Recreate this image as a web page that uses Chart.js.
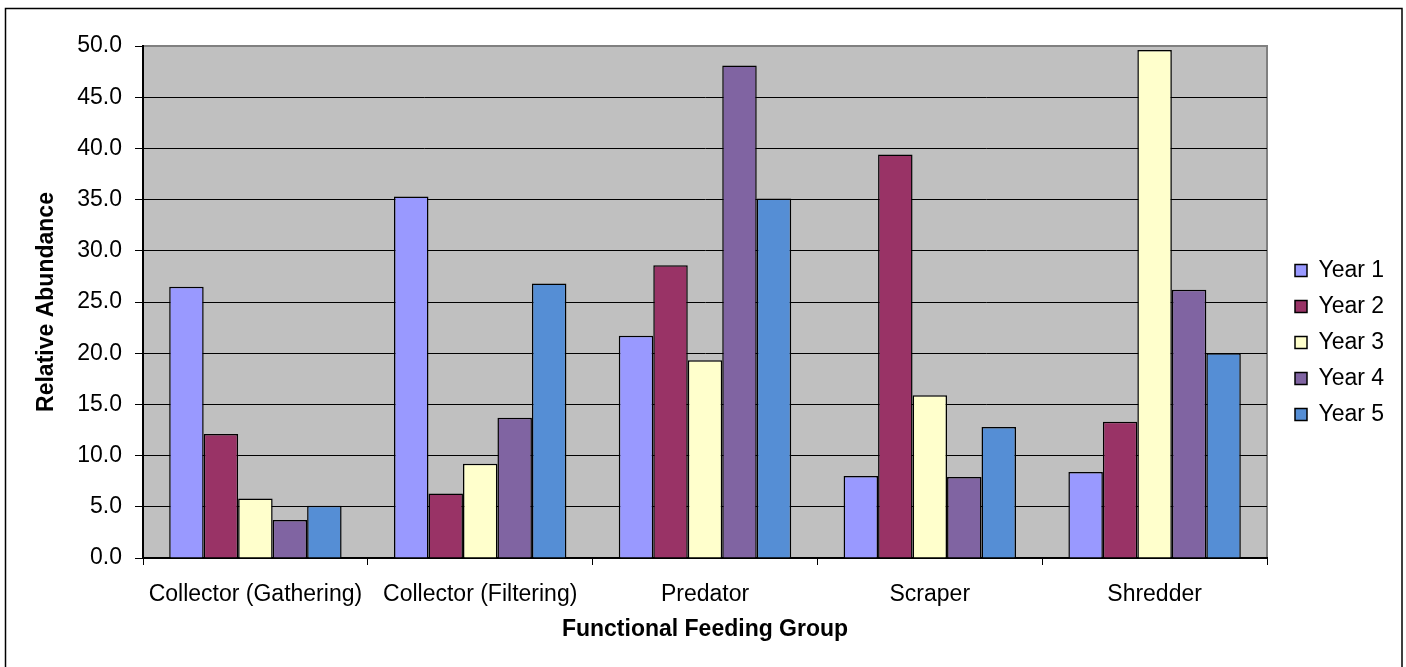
<!DOCTYPE html>
<html>
<head>
<meta charset="utf-8">
<script src="https://cdn.jsdelivr.net/npm/chart.js@4.4.1/dist/chart.umd.min.js"></script>
<style>
  html, body { margin: 0; padding: 0; background: #fff; }
  #wrap { width: 1406px; height: 667px; position: relative; }
</style>
</head>
<body>
<div id="wrap"><canvas id="c"></canvas></div>
<script>
const categories = ['Collector (Gathering)', 'Collector (Filtering)', 'Predator', 'Scraper', 'Shredder'];
const seriesNames = ['Year 1', 'Year 2', 'Year 3', 'Year 4', 'Year 5'];
const year1 = [26.5, 35.3, 21.7, 8.0, 8.4];
const year2 = [12.1, 6.3, 28.6, 39.4, 13.3];
const year3 = [5.8, 9.2, 19.3, 15.9, 49.6];
const year4 = [3.7, 13.7, 48.1, 7.9, 26.2];
const year5 = [5.1, 26.8, 35.1, 12.8, 20.0];
const yMin = 0, yMax = 50, yStep = 5;
const xTitle = 'Functional Feeding Group';
const yTitle = 'Relative Abundance';

const colors = ['#9999FF', '#993366', '#FFFFCC', '#8064A2', '#558ED5'];
const seriesValues = [year1, year2, year3, year4, year5];

const FONT = "'Liberation Sans', Arial, sans-serif";
const FS = 23;

const PLOT_LEFT = 143, PLOT_RIGHT = 1267, PLOT_TOP = 46, PLOT_BOTTOM = 558;
const W = 1406, H = 667;

const mctx = document.createElement('canvas').getContext('2d');
mctx.font = FS + 'px ' + FONT;
let maxText = 0;
seriesNames.forEach(s => { maxText = Math.max(maxText, mctx.measureText(s).width); });
const LEG_PAD = 13, LEG_BOX = 12;
const legendWidth = LEG_PAD + LEG_BOX + FS / 2 + maxText + 10;
const padRight = W - PLOT_RIGHT - legendWidth;

const bgPlugin = {
  id: 'bgPlugin',
  beforeDraw(chart) {
    const {ctx, chartArea: a} = chart;
    ctx.save();
    ctx.fillStyle = '#C0C0C0';
    ctx.fillRect(a.left, a.top, a.right - a.left, a.bottom - a.top);
    ctx.strokeStyle = '#808080';
    ctx.lineWidth = 2;
    ctx.beginPath();
    ctx.moveTo(a.left, a.top);
    ctx.lineTo(a.right, a.top);
    ctx.lineTo(a.right, a.bottom);
    ctx.stroke();
    ctx.restore();
  },
  afterLayout(chart) {
    const lg = chart.legend;
    if (!lg) return;
    const dx = 1295 - (lg.left + LEG_PAD);
    lg.left += dx; lg.right += dx;
    const colH = lg.columnSizes && lg.columnSizes[0] ? lg.columnSizes[0].height : 180;
    const startY = (lg.top + LEG_PAD + lg.bottom - colH) / 2;
    const dy = (270.5 - FS / 2) - startY;
    lg.top += dy; lg.bottom += dy;
  },
  afterDraw(chart) {
    const {ctx} = chart;
    ctx.save();
    ctx.strokeStyle = '#000';
    ctx.lineWidth = 1.5;
    ctx.strokeRect(5.5, 8.5, 1396.5, 700);
    ctx.restore();
  }
};

new Chart(document.getElementById('c'), {
  type: 'bar',
  data: {
    labels: categories,
    datasets: seriesNames.map((name, i) => ({
      label: name,
      data: seriesValues[i],
      backgroundColor: colors[i],
      borderColor: '#000',
      borderWidth: 1.5,
      categoryPercentage: 0.767,
      barPercentage: 1.0
    }))
  },
  options: {
    responsive: true,
    maintainAspectRatio: false,
    devicePixelRatio: 1,
    animation: false,
    layout: { padding: { left: 5, top: PLOT_TOP, right: padRight, bottom: 0 } },
    plugins: {
      legend: {
        display: true,
        position: 'right',
        align: 'center',
        labels: {
          boxWidth: LEG_BOX, boxHeight: LEG_BOX, padding: LEG_PAD,
          color: '#000', font: { family: FONT, size: FS }
        }
      },
      tooltip: { enabled: false },
      title: { display: false }
    },
    scales: {
      x: {
        grid: { display: true, drawOnChartArea: false, drawTicks: true, tickLength: 7, color: '#000', lineWidth: 1, offset: true },
        border: { display: true, color: '#000', width: 2 },
        ticks: { color: '#000', font: { family: FONT, size: FS }, padding: 16, maxRotation: 0, autoSkip: false },
        title: { display: true, text: xTitle, color: '#000', font: { family: FONT, size: FS, weight: 'bold' }, padding: { top: 0, bottom: 24 } },
        afterFit(s) { s.height = H - PLOT_BOTTOM; }
      },
      y: {
        min: yMin, max: yMax,
        ticks: { stepSize: yStep, callback: v => Number(v).toFixed(1), color: '#000', font: { family: FONT, size: FS }, padding: 13 },
        grid: {
          color: ctx => (ctx.tick && ctx.tick.value === yMax) ? 'rgba(0,0,0,0)' : '#000',
          tickColor: '#000', tickLength: 8, lineWidth: 1, drawTicks: true
        },
        border: { display: true, color: '#000', width: 2 },
        title: { display: true, text: yTitle, color: '#000', font: { family: FONT, size: FS, weight: 'bold' }, padding: { top: 28, bottom: 0 } },
        afterFit(s) { s.width = PLOT_LEFT - 5; }
      }
    }
  },
  plugins: [bgPlugin]
});
</script>
</body>
</html>
